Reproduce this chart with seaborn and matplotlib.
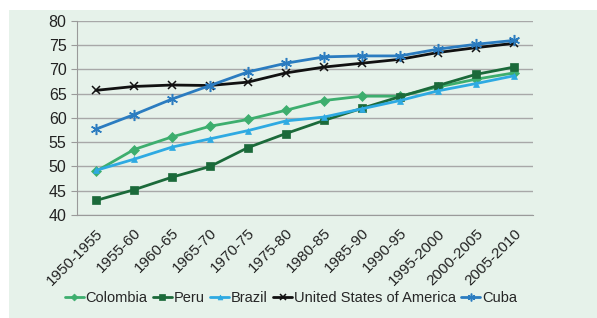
import pandas as pd
import numpy as np
import seaborn as sns
import matplotlib.pyplot as plt
from matplotlib.patches import Rectangle

# periods on x axis
periods = ['1950-1955', '1955-60', '1960-65', '1965-70', '1970-75', '1975-80',
           '1980-85', '1985-90', '1990-95', '1995-2000', '2000-2005', '2005-2010']

colombia = [49.0, 53.5, 56.1, 58.3, 59.7, 61.6, 63.6, 64.5, 64.5, 66.4, 68.0, 69.3]
peru = [43.0, 45.2, 47.8, 50.0, 53.9, 56.8, 59.5, 62.0, 64.4, 66.7, 69.0, 70.5]
brazil = [49.2, 51.5, 54.0, 55.7, 57.4, 59.4, 60.2, 61.9, 63.6, 65.6, 67.1, 68.7]
usa = [65.7, 66.5, 66.8, 66.7, 67.4, 69.3, 70.5, 71.3, 72.1, 73.5, 74.5, 75.4]
cuba = [57.7, 60.7, 63.9, 66.7, 69.5, 71.3, 72.6, 72.8, 72.8, 74.2, 75.2, 76.0]

series = {
    'Colombia': colombia,
    'Peru': peru,
    'Brazil': brazil,
    'United States of America': usa,
    'Cuba': cuba,
}
colors = {'Colombia': '#3dae6e', 'Peru': '#1b6a3a', 'Brazil': '#2eaae2',
          'United States of America': '#111111', 'Cuba': '#2b7cc0'}
markers = {'Colombia': 'D', 'Peru': 's', 'Brazil': '^',
           'United States of America': 'x', 'Cuba': (6, 2, 0)}
msizes = {'Colombia': 5, 'Peru': 6, 'Brazil': 5,
          'United States of America': 6, 'Cuba': 8}

# long form table
rows = []
for name, vals in series.items():
    for i, v in enumerate(vals):
        rows.append({'pos': i, 'period': periods[i], 'country': name, 'value': v})
df = pd.DataFrame(rows)

sns.set_style('white')
plt.rcParams['font.family'] = ['Liberation Sans', 'DejaVu Sans']

bg = '#e6f2ea'
fig = plt.figure(figsize=(5.97, 3.18), dpi=100, facecolor='white')
fig.patches.append(Rectangle((9 / 597, 0), 1, 1 - 10 / 318, transform=fig.transFigure,
                             facecolor=bg, edgecolor='none', zorder=-5))
ax = fig.add_axes([77 / 597, 1 - 215 / 318, (533 - 77) / 597, (215 - 21) / 318])
ax.set_facecolor(bg)

for name in series:
    sub = df[df['country'] == name]
    sns.lineplot(data=sub, x='pos', y='value', ax=ax, color=colors[name],
                 marker=markers[name], markersize=msizes[name], linewidth=2,
                 markeredgewidth=1.1 if name in ('United States of America', 'Cuba') else 0.5,
                 markeredgecolor=colors[name], label=name, legend=False)

ax.set_xlim(-0.5, len(periods) - 0.5)
ax.set_ylim(40, 80)
ax.set_yticks(np.arange(40, 81, 5))
ax.set_xticks(range(len(periods)))
ax.set_xticklabels(periods, rotation=45, ha='right', rotation_mode='anchor')
ax.set_xticks(np.arange(-0.5, len(periods), 1), minor=True)
ax.tick_params(axis='x', which='major', length=0, pad=8, labelsize=11, colors='#222222')
ax.tick_params(axis='x', which='minor', length=4, color='#9a9a9a', width=0.8)
ax.tick_params(axis='y', length=4, color='#9a9a9a', width=0.8, labelsize=11.5,
               labelcolor='#222222', left=True)
ax.yaxis.grid(True, color='#a8a8a8', linewidth=1)
ax.set_axisbelow(True)
ax.set_xlabel('')
ax.set_ylabel('')
for s in ['top', 'right']:
    ax.spines[s].set_visible(False)
for s in ['left', 'bottom']:
    ax.spines[s].set_color('#9a9a9a')
    ax.spines[s].set_linewidth(0.8)

handles, labels = ax.get_legend_handles_labels()
fig.legend(handles, labels, loc='center', bbox_to_anchor=(0.487, 0.063), ncol=5,
           frameon=False, fontsize=10.5, handlelength=1.3, handletextpad=0.1,
           columnspacing=0.4, markerscale=0.7)

fig.savefig('out.png', dpi=100, facecolor='white')
